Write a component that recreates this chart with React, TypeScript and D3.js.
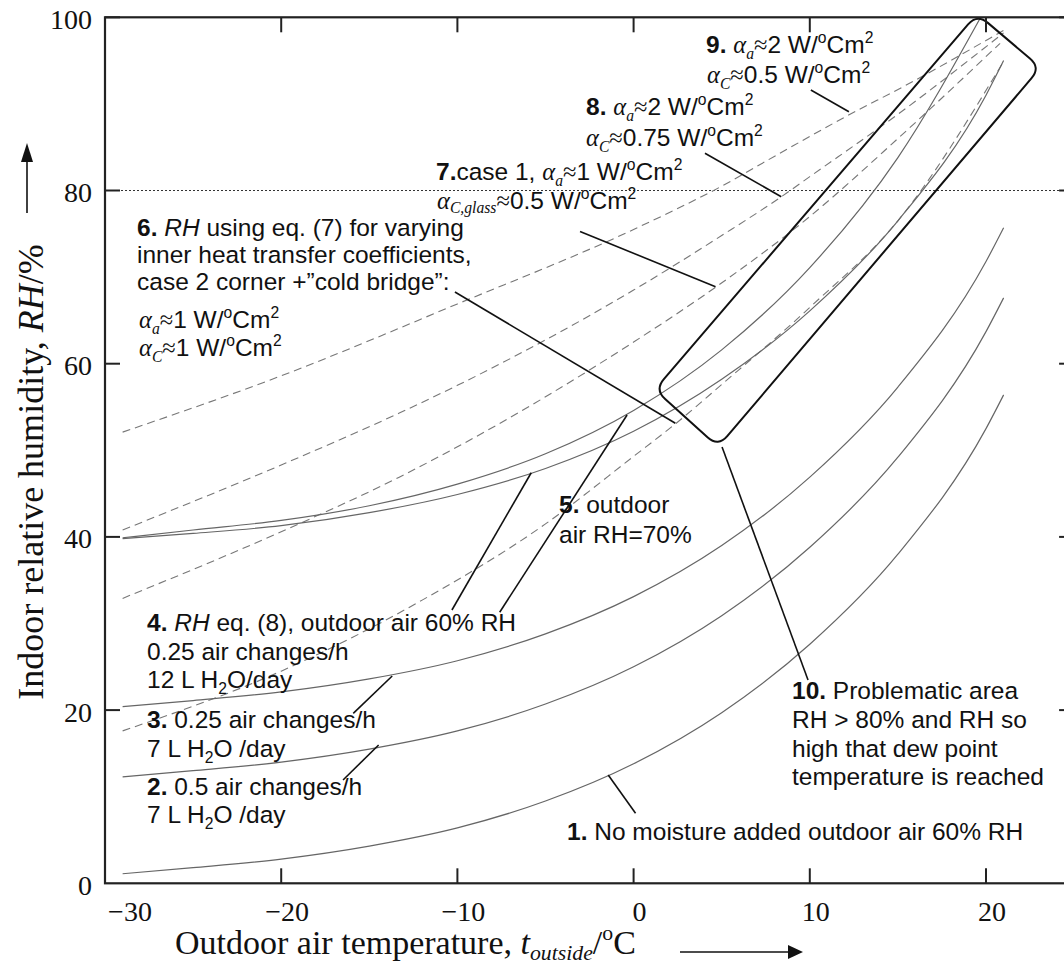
import React from "react";
import * as d3 from "d3";

// ---------- data ----------
const xTicks = [-30, -20, -10, 0, 10, 20];
const yTicks = [0, 20, 40, 60, 80, 100];

// solid curves (indoor RH)
const c1T = [-29, -25, -20, -15, -10, -5, 0, 5, 10, 15, 20, 21];
const c1RH = [1.1, 1.8, 2.8, 4.3, 6.4, 9.5, 13.8, 19.7, 27.6, 38.0, 52.5, 56.4];
const c2T = [-29, -25, -20, -15, -10, -5, 0, 5, 10, 15, 20, 21];
const c2RH = [12.3, 13.0, 14.0, 15.5, 17.6, 20.7, 25.0, 30.9, 38.8, 49.2, 63.7, 67.6];
const c3T = [-29, -25, -20, -15, -10, -5, 0, 5, 10, 15, 20, 21];
const c3RH = [20.4, 21.1, 22.1, 23.6, 25.7, 28.8, 33.1, 39.0, 46.9, 57.3, 71.8, 75.7];
const c4T = [-29, -25, -20, -15, -10, -5, 0, 5, 10, 15, 20, 21];
const c4RH = [39.8, 40.4, 41.3, 42.8, 44.9, 47.9, 52.2, 58.2, 66.1, 76.5, 91.0, 95.0];
const c5T = [-29, -25, -20, -15, -10, -5, 0, 5, 10, 15, 19.7];
const c5RH = [39.9, 40.8, 41.9, 43.6, 46.1, 49.6, 54.6, 61.6, 71.1, 83.8, 100];

// dashed curves (surface RH, eq. 7)
const d9T = [-29, -20, -10, 0, 5, 8.3, 12.1, 15.5, 21];
const d9RH = [52.1, 58.6, 66.9, 75.5, 80.5, 84.3, 88.6, 92.2, 98.5];
const d8T = [-29, -20, -13.3, -10, 0, 5, 8.4, 10, 15, 21];
const d8RH = [40.8, 48.3, 54.3, 57.5, 68.5, 74.8, 79.3, 81.6, 88.8, 98.2];
const d7T = [-29, -20, -13.3, -10, 0, 4.7, 10, 15, 20.8];
const d7RH = [32.9, 40.6, 46.9, 50.4, 62.5, 68.9, 77.0, 86.0, 97.0];
const d6T = [-29, -20, -12, -5, 0, 2.4, 5, 10, 15, 21];
const d6RH = [17.6, 24.5, 32.7, 41.5, 49.3, 53.1, 57.6, 66.5, 76.5, 94.9];

const refLine = 80;

// problematic area corners (t, RH)
const boxT = [19.5, 23.1, 4.8, 1.2];
const boxRH = [100.4, 94.2, 50.4, 57.0];

// leader lines [t1, rh1, t2, rh2]
const leaders = [
  [-1.44, 12.5, 0.11, 8.08],
  [-16.49, 11.93, -14.47, 15.97],
  [-15.91, 19.63, -13.7, 23.94],
  [-10.31, 31.56, -5.81, 47.41],
  [-7.6, 31.3, -0.37, 54.08],
  [-10.14, 68.28, 2.37, 53.12],
  [-3.04, 75.27, 4.65, 68.89],
  [4.05, 84.3, 8.38, 79.28],
  [10.06, 91.6, 12.22, 89.1],
  [5.02, 50.38, 9.9, 23.48],
];

// ---------- layout ----------
const W = 1064;
const H = 967;
const X0 = 105;
const PX_PER_DEG = 17.62;
const Y0 = 883.3;
const Y100 = 17.3;
const SERIF = "'Liberation Serif', 'Times New Roman', serif";
const SANS = "'Liberation Sans', Arial, sans-serif";
const AS = 24.5; // annotation font size

type Seg = { s: string; b?: boolean; i?: boolean; serif?: boolean; sub?: boolean; sup?: boolean };

function Rich({ x, y, segs, size, family, anchor, transform, subShift = 0.24 }: { x: number; y: number; segs: Seg[]; size: number; family: string; anchor?: string; transform?: string; subShift?: number }) {
  let shift = 0;
  const parts = segs.map((sg, k) => {
    const target = sg.sub ? size * subShift : sg.sup ? -size * 0.42 : 0;
    const dy = target - shift;
    shift = target;
    return (
      <tspan
        key={k}
        dy={dy !== 0 ? dy : undefined}
        fontSize={sg.sub || sg.sup ? size * 0.64 : size}
        fontWeight={sg.b ? "bold" : undefined}
        fontStyle={sg.i ? "italic" : undefined}
        fontFamily={sg.serif ? SERIF : undefined}
      >
        {sg.s}
      </tspan>
    );
  });
  return (
    <text x={x} y={y} fontSize={size} fontFamily={family} textAnchor={anchor} transform={transform} fill="#111" style={{ whiteSpace: "pre" }}>
      {parts}
    </text>
  );
}

const alpha = (sub: string): Seg[] => [
  { s: "α", i: true, serif: true },
  { s: sub, i: true, serif: true, sub: true },
];
const unit: Seg[] = [{ s: " W/" }, { s: "o", sup: true }, { s: "Cm" }, { s: "2", sup: true }];
const approx = (v: string): Seg[] => [{ s: "≈", serif: true }, { s: v }];

function roundedPoly(pts: [number, number][], r: number) {
  const n = pts.length;
  const unitv = (a: [number, number], b: [number, number]) => {
    const dx = b[0] - a[0], dy = b[1] - a[1];
    const l = Math.hypot(dx, dy);
    return [dx / l, dy / l];
  };
  const A: [number, number][] = [];
  const B: [number, number][] = [];
  for (let i = 0; i < n; i++) {
    const p = pts[i], prev = pts[(i + n - 1) % n], next = pts[(i + 1) % n];
    const u1 = unitv(p, prev), u2 = unitv(p, next);
    A.push([p[0] + u1[0] * r, p[1] + u1[1] * r]);
    B.push([p[0] + u2[0] * r, p[1] + u2[1] * r]);
  }
  let d = `M${B[0][0]},${B[0][1]}`;
  for (let k = 1; k <= n; k++) {
    const i = k % n;
    d += ` L${A[i][0]},${A[i][1]} Q${pts[i][0]},${pts[i][1]} ${B[i][0]},${B[i][1]}`;
  }
  return d + "Z";
}

export default function App() {
  const x = d3.scaleLinear().domain([-30, 25]).range([X0, X0 + 55 * PX_PER_DEG]);
  const y = d3.scaleLinear().domain([0, 100]).range([Y0, Y100]);
  const line = d3
    .line<[number, number]>()
    .x((d) => x(d[0]))
    .y((d) => y(d[1]))
    .curve(d3.curveMonotoneX);
  const mk = (ts: number[], rs: number[]) => line(ts.map((t, i) => [t, rs[i]] as [number, number])) || "";

  const solid = [mk(c1T, c1RH), mk(c2T, c2RH), mk(c3T, c3RH), mk(c4T, c4RH), mk(c5T, c5RH)];
  const dashed = [mk(d9T, d9RH), mk(d8T, d8RH), mk(d7T, d7RH), mk(d6T, d6RH)];
  const boxPts = boxT.map((t, i) => [x(t), y(boxRH[i])] as [number, number]);
  const xR = x(25);
  const tickLen = 15;

  return (
    <svg width={W} height={H} style={{ position: "absolute", left: 0, top: 0, background: "#fff" }}>
      <rect x={0} y={0} width={W} height={H} fill="#fff" />
      {/* reference dotted line */}
      <line x1={X0} x2={xR} y1={y(refLine)} y2={y(refLine)} stroke="#333" strokeWidth={1} strokeDasharray="2,2" />

      {/* curves */}
      {dashed.map((d, i) => (
        <path key={"d" + i} d={d} fill="none" stroke="#777" strokeWidth={1.1} strokeDasharray="8,5" />
      ))}
      {solid.map((d, i) => (
        <path key={"s" + i} d={d} fill="none" stroke="#666" strokeWidth={1.2} />
      ))}

      {/* problematic area */}
      <path d={roundedPoly(boxPts, 14)} fill="none" stroke="#111" strokeWidth={2} />

      {/* leaders */}
      {leaders.map((l, i) => (
        <line key={"l" + i} x1={x(l[0])} y1={y(l[1])} x2={x(l[2])} y2={y(l[3])} stroke="#111" strokeWidth={1.6} />
      ))}

      {/* frame */}
      <rect x={X0} y={Y100} width={xR - X0} height={Y0 - Y100} fill="none" stroke="#222" strokeWidth={2.2} />
      {xTicks.filter((t) => t > -30).map((t) => (
        <g key={"xt" + t}>
          <line x1={x(t)} x2={x(t)} y1={Y0} y2={Y0 - tickLen} stroke="#222" strokeWidth={2} />
          <line x1={x(t)} x2={x(t)} y1={Y100} y2={Y100 + tickLen} stroke="#222" strokeWidth={2} />
        </g>
      ))}
      {yTicks.filter((v) => v > 0).map((v) => (
        <g key={"yt" + v}>
          <line x1={X0} x2={X0 + tickLen} y1={y(v)} y2={y(v)} stroke="#222" strokeWidth={2} />
          <line x1={xR} x2={xR - tickLen} y1={y(v)} y2={y(v)} stroke="#222" strokeWidth={2} />
        </g>
      ))}
      {xTicks.map((t) => (
        <text key={"xl" + t} x={x(t) + (t === -30 ? 25 : 6)} y={921} fontSize={28} fontFamily={SERIF} textAnchor="middle" fill="#111">
          {t < 0 ? "−" + Math.abs(t) : String(t)}
        </text>
      ))}
      {yTicks.map((v) => (
        <text key={"yl" + v} x={92} y={y(v) + 11.5} fontSize={28} fontFamily={SERIF} textAnchor="end" fill="#111">
          {v}
        </text>
      ))}

      {/* axis titles */}
      <Rich
        x={175}
        y={954}
        size={34}
        family={SERIF}
        subShift={0.18}
        segs={[{ s: "Outdoor air temperature, " }, { s: "t", i: true }, { s: "outside", i: true, sub: true }, { s: "/" }, { s: "o", sup: true }, { s: "C" }]}
      />
      <line x1={680} x2={790} y1={952} y2={952} stroke="#111" strokeWidth={1.6} />
      <path d="M788,945 L803,952 L788,959 Z" fill="#111" />
      <Rich
        x={0}
        y={0}
        size={36}
        family={SERIF}
        anchor="middle"
        transform="translate(43,472) rotate(-90)"
        segs={[{ s: "Indoor relative humidity, " }, { s: "RH", i: true }, { s: "/%" }]}
      />
      <line x1={27} x2={27} y1={213} y2={158} stroke="#111" strokeWidth={1.6} />
      <path d="M21,162 L27,143 L33,162 Z" fill="#111" />

      {/* annotations */}
      <Rich x={706} y={53} size={AS} family={SANS} segs={[{ s: "9.", b: true }, { s: " " }, ...alpha("a"), ...approx("2"), ...unit]} />
      <Rich x={707} y={83} size={AS} family={SANS} segs={[...alpha("C"), ...approx("0.5"), ...unit]} />
      <Rich x={586} y={115} size={AS} family={SANS} segs={[{ s: "8.", b: true }, { s: " " }, ...alpha("a"), ...approx("2"), ...unit]} />
      <Rich x={586} y={146} size={AS} family={SANS} segs={[...alpha("C"), ...approx("0.75"), ...unit]} />
      <Rich x={436} y={180} size={AS} family={SANS} segs={[{ s: "7.", b: true }, { s: "case 1, " }, ...alpha("a"), ...approx("1"), ...unit]} />
      <Rich x={437} y={209} size={AS} family={SANS} subShift={0.18} segs={[...alpha("C,glass"), ...approx("0.5"), ...unit]} />

      <Rich x={137} y={236} size={AS} family={SANS} segs={[{ s: "6.", b: true }, { s: " " }, { s: "RH", i: true }, { s: " using eq. (7) for varying" }]} />
      <Rich x={137} y={263} size={AS} family={SANS} segs={[{ s: "inner heat transfer coefficients," }]} />
      <Rich x={137} y={290} size={AS} family={SANS} segs={[{ s: "case 2 corner +\u201dcold bridge\u201d:" }]} />
      <Rich x={139} y={328} size={AS} family={SANS} segs={[...alpha("a"), ...approx("1"), ...unit]} />
      <Rich x={139} y={356} size={AS} family={SANS} segs={[...alpha("C"), ...approx("1"), ...unit]} />

      <Rich x={559} y={513} size={AS} family={SANS} segs={[{ s: "5.", b: true }, { s: " outdoor" }]} />
      <Rich x={559} y={543} size={AS} family={SANS} segs={[{ s: "air RH=70%" }]} />

      <Rich x={147} y={631} size={AS} family={SANS} segs={[{ s: "4.", b: true }, { s: " " }, { s: "RH", i: true }, { s: " eq. (8), outdoor air 60% RH" }]} />
      <Rich x={147} y={660} size={AS} family={SANS} segs={[{ s: "0.25 air changes/h" }]} />
      <Rich x={147} y={688} size={AS} family={SANS} segs={[{ s: "12 L H" }, { s: "2", sub: true }, { s: "O/day" }]} />
      <Rich x={147} y={728} size={AS} family={SANS} segs={[{ s: "3.", b: true }, { s: " 0.25 air changes/h" }]} />
      <Rich x={147} y={757} size={AS} family={SANS} segs={[{ s: "7 L H" }, { s: "2", sub: true }, { s: "O /day" }]} />
      <Rich x={147} y={795} size={AS} family={SANS} segs={[{ s: "2.", b: true }, { s: " 0.5 air changes/h" }]} />
      <Rich x={147} y={823} size={AS} family={SANS} segs={[{ s: "7 L H" }, { s: "2", sub: true }, { s: "O /day" }]} />

      <Rich x={792} y={699} size={AS} family={SANS} segs={[{ s: "10.", b: true }, { s: " Problematic area" }]} />
      <Rich x={792} y={728} size={AS} family={SANS} segs={[{ s: "RH > 80% and RH so" }]} />
      <Rich x={792} y={757} size={AS} family={SANS} segs={[{ s: "high that dew point" }]} />
      <Rich x={792} y={785} size={AS} family={SANS} segs={[{ s: "temperature is reached" }]} />
      <Rich x={567} y={840} size={AS} family={SANS} segs={[{ s: "1.", b: true }, { s: " No moisture added outdoor air 60% RH" }]} />
    </svg>
  );
}
